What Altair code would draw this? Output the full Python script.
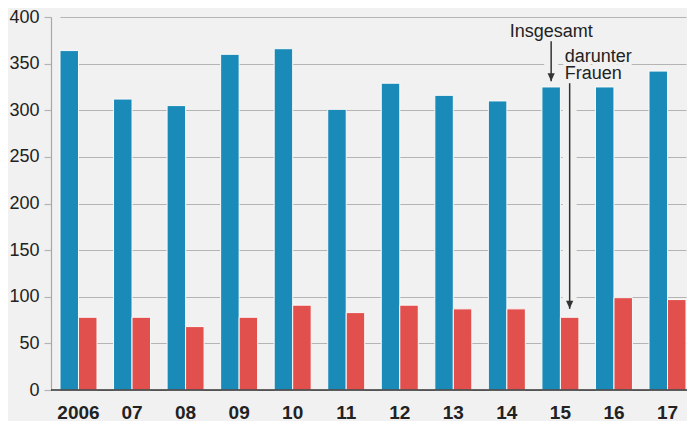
import altair as alt
import pandas as pd

jahre = ["2006", "07", "08", "09", "10", "11", "12", "13", "14", "15", "16", "17"]
insgesamt = [364, 312, 305, 360, 366, 301, 329, 316, 310, 325, 325, 342]
frauen = [78, 78, 68, 78, 91, 83, 91, 87, 87, 78, 99, 97]
serien = ["Insgesamt", "Frauen"]
farben = ["#1a8bb8", "#e1504d"]
y_ticks = [0, 50, 100, 150, 200, 250, 300, 350, 400]

# annotation arrows (data coordinates) and labels
pfeil_jahr = ["15", "15"]
pfeil_serie = ["Insgesamt", "Frauen"]
pfeil_von = [374, 329]
pfeil_bis = [331, 87]

text_mitte = ["Insgesamt"]
text_mitte_y = [379]
text_links = ["darunter", "Frauen"]
text_links_y = [352, 333]

BG = "#f1f1f1"
FONT = "Liberation Sans"

rows = []
for j, a, b in zip(jahre, insgesamt, frauen):
    rows.append({"jahr": j, "serie": "Insgesamt", "wert": a})
    rows.append({"jahr": j, "serie": "Frauen", "wert": b})
df = pd.DataFrame(rows)

pfeile = pd.DataFrame({"jahr": pfeil_jahr, "serie": pfeil_serie, "y": pfeil_von, "y2": pfeil_bis})
tm = pd.DataFrame({"jahr": ["15"], "serie": ["Insgesamt"], "text": text_mitte, "y": text_mitte_y})
tl = pd.DataFrame({"jahr": ["15", "15"], "serie": ["Frauen", "Frauen"], "text": text_links, "y": text_links_y})

x_enc = alt.X(
    "jahr:N",
    sort=jahre,
    scale=alt.Scale(range=[9, 635], paddingInner=0.309, paddingOuter=0),
    axis=alt.Axis(
        title=None, labelAngle=0, ticks=False, tickSize=0, domain=False, grid=False,
        labelFontSize=19, labelFontWeight="bold", labelFont=FONT, labelColor="#222222",
        labelPadding=13,
    ),
)
xo_enc = alt.XOffset("serie:N", sort=serien, scale=alt.Scale(paddingInner=0, paddingOuter=0))
y_scale = alt.Scale(domain=[0, 400])

bars = alt.Chart(df).mark_bar(stroke="#fafafa", strokeWidth=1).encode(
    x=x_enc,
    xOffset=xo_enc,
    y=alt.Y(
        "wert:Q",
        scale=y_scale,
        axis=alt.Axis(
            title=None, values=y_ticks, grid=True, gridColor="#b4b4b4", gridWidth=1.2,
            domain=True, domainColor="#a8a8a8", domainWidth=1.2,
            ticks=True, tickSize=7, tickColor="#b4b4b4", tickWidth=1.2,
            labelFontSize=18, labelFont=FONT, labelColor="#222222", labelPadding=5,
        ),
    ),
    color=alt.Color("serie:N", scale=alt.Scale(domain=serien, range=farben), legend=None),
)

halo = alt.Chart(pfeile).mark_rule(color=BG, strokeWidth=14).encode(
    x=x_enc, xOffset=xo_enc, y=alt.Y("y:Q", scale=y_scale), y2="y2:Q"
)

zero = alt.Chart(pd.DataFrame({"v": [0]})).mark_rule(color="#333333", strokeWidth=1.6).encode(
    y=alt.Y("v:Q", scale=y_scale)
)

pfeil_linie = alt.Chart(pfeile).mark_rule(color="#333333", strokeWidth=1.5).encode(
    x=x_enc, xOffset=xo_enc, y=alt.Y("y:Q", scale=y_scale), y2="y2:Q"
)
pfeil_spitze = alt.Chart(pfeile).mark_point(
    shape="M-0.45,-1L0.45,-1L0,0Z", filled=True, size=256, color="#333333", opacity=1
).encode(x=x_enc, xOffset=xo_enc, y=alt.Y("y2:Q", scale=y_scale))

def text_layer(data, align, dx):
    halo_t = alt.Chart(data).mark_text(
        align=align, baseline="alphabetic", dx=dx, font=FONT, fontSize=18,
        stroke=BG, strokeWidth=6, color=BG,
    ).encode(x=x_enc, xOffset=xo_enc, y=alt.Y("y:Q", scale=y_scale), text="text:N")
    txt = alt.Chart(data).mark_text(
        align=align, baseline="alphabetic", dx=dx, font=FONT, fontSize=18, color="#222222",
    ).encode(x=x_enc, xOffset=xo_enc, y=alt.Y("y:Q", scale=y_scale), text="text:N")
    return halo_t + txt

chart = alt.layer(
    halo, bars, zero, pfeil_linie, pfeil_spitze,
    text_layer(tm, "center", 0), text_layer(tl, "left", -5),
).properties(
    width=636, height=373,
    autosize=alt.AutoSizeParams(type="none"),
    padding={"left": 43, "top": 9, "right": 0, "bottom": 31},
    background=BG,
).configure_view(stroke=None)

chart.save("out.html", embed_options={"renderer": "svg", "actions": False})
